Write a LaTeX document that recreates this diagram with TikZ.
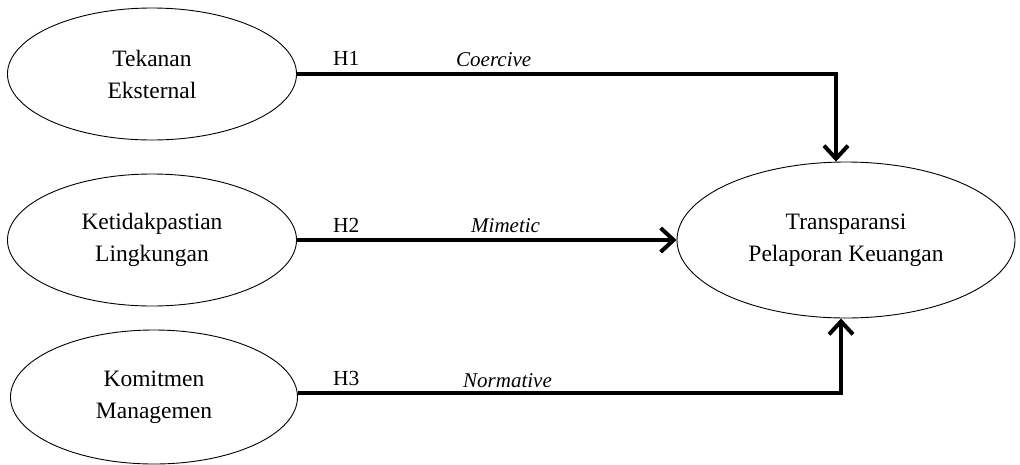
\documentclass[tikz,border=0pt]{standalone}
\usepackage{fontspec}
\setmainfont{Liberation Serif}
\usetikzlibrary{shapes.geometric,arrows.meta}
\tikzset{
  var/.style={draw, ellipse, line width=0.9pt, inner sep=0pt, align=center,
    font=\fontsize{23.5}{32}\selectfont},
  arr/.style={line width=4pt, -{Straight Barb[length=13pt,width=24pt,line width=4pt]}},
  hyp/.style={anchor=base west, inner sep=0pt, font=\fontsize{21.5}{25}\selectfont},
  mech/.style={anchor=base west, inner sep=0pt, font=\fontsize{21}{25}\itshape},
}
\begin{document}
\begin{tikzpicture}[x=1pt,y=-1pt]
\useasboundingbox (0,0) rectangle (1020,464);
\node[var, minimum width=289pt, minimum height=132pt] (e1) at (152,74) {Tekanan\\Eksternal};
\node[var, minimum width=289pt, minimum height=132pt] (e2) at (152,240) {Ketidakpastian\\Lingkungan};
\node[var, minimum width=287pt, minimum height=134pt] (e3) at (154,397) {Komitmen\\Managemen};
\node[var, minimum width=338pt, minimum height=156pt] (t) at (846,240) {Transparansi\\Pelaporan Keuangan};
\coordinate (c1) at (836,74);
\coordinate (c3) at (841,393);
\draw[arr] (e1.east |- c1) -- (c1) -- (c1 |- t.north);
\draw[arr] (e2.east) -- (t.west);
\draw[arr] (e3.east |- c3) -- (c3) -- (c3 |- t.south);
\node[hyp] (h1) at (333,65) {H1};
\node[hyp] (h2) at (333,232) {H2};
\node[hyp] (h3) at (333,385) {H3};
\node[mech] (m1) at (456,66) {Coercive};
\node[mech] (m2) at (471,232) {Mimetic};
\node[mech] (m3) at (463,387) {Normative};
\end{tikzpicture}
\end{document}
